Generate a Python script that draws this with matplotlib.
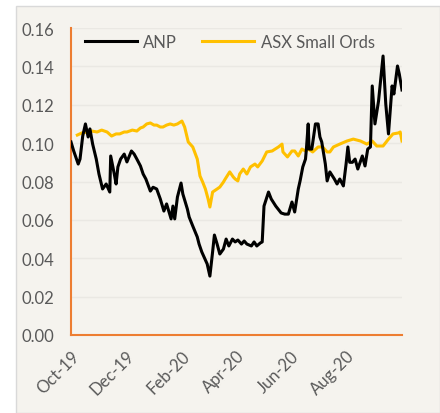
import matplotlib
matplotlib.use("Agg")
import matplotlib.pyplot as plt
import matplotlib.dates as mdates
from matplotlib.patches import Rectangle
import pandas as pd

START = pd.Timestamp("2019-10-01")
END = pd.Timestamp("2020-10-02")

# ANP share price (day offset from START, value)
anp_days = [0, 3, 8, 10, 13, 16, 19, 21, 24, 28, 31, 35, 39, 43, 44, 48, 50, 52, 55, 59,
            62, 67, 70, 73, 77, 80, 83, 88, 91, 95, 99, 103, 106, 111, 113, 115, 118, 122, 124, 129,
            131, 135, 140, 142, 145, 151, 154, 157, 159, 162, 165, 169, 172, 175, 179, 182, 185, 189, 192, 195,
            200, 203, 206, 210, 212, 214, 219, 222, 227, 233, 237, 241, 245, 248, 252, 254, 257, 260, 261, 263,
            264, 267, 271, 274, 276, 278, 282, 284, 287, 292, 295, 298, 302, 305, 307, 309, 312, 315, 318, 323,
            326, 329, 332, 334, 337, 341, 346, 349, 352, 356, 358, 362, 364, 367]
anp = [0.1006, 0.0959, 0.0891, 0.0917, 0.1037, 0.1100, 0.1032, 0.1074, 0.0995, 0.0917,
       0.0839, 0.0761, 0.0787, 0.0745, 0.0933, 0.0839, 0.0787, 0.0876, 0.0917, 0.0943,
       0.0902, 0.0959, 0.0943, 0.0917, 0.0881, 0.0839, 0.0813, 0.0750, 0.0770, 0.0761,
       0.0709, 0.0646, 0.0683, 0.0605, 0.0672, 0.0605, 0.0719, 0.0792, 0.0735, 0.0657,
       0.0615, 0.0568, 0.0511, 0.0474, 0.0433, 0.0370, 0.0307, 0.0433, 0.0521, 0.0474,
       0.0422, 0.0448, 0.0500, 0.0464, 0.0500, 0.0485, 0.0495, 0.0474, 0.0490, 0.0474,
       0.0464, 0.0485, 0.0464, 0.0480, 0.0485, 0.0672, 0.0745, 0.0709, 0.0672, 0.0636,
       0.0630, 0.0630, 0.0693, 0.0641, 0.0761, 0.0803, 0.0876, 0.0917, 0.0969, 0.1100,
       0.0969, 0.0969, 0.1100, 0.1100, 0.1032, 0.1006, 0.0891, 0.0803, 0.0850, 0.0813,
       0.0787, 0.0813, 0.0777, 0.0891, 0.0980, 0.0900, 0.0900, 0.0917, 0.0865, 0.0933,
       0.0881, 0.0969, 0.0980, 0.1298, 0.1100, 0.1220, 0.1454, 0.1204, 0.1048, 0.1298,
       0.1256, 0.1402, 0.1360, 0.1277]

# ASX Small Ords, rebased to ANP
ords_days = [7, 12, 18, 23, 29, 34, 40, 45, 50, 54, 59, 62, 68, 73, 77, 80, 84, 88, 92, 95,
             99, 102, 106, 110, 114, 118, 123, 126, 130, 135, 140, 143, 146, 149, 152, 154, 157, 162, 165, 169,
             171, 176, 180, 182, 185, 187, 191, 195, 199, 204, 207, 212, 217, 223, 230, 234, 235, 240, 245, 248,
             252, 256, 260, 263, 268, 274, 279, 284, 287, 291, 298, 306, 313, 321, 328, 334, 339, 346, 352, 357,
             363, 365, 367]
ords = [0.1042, 0.1053, 0.1058, 0.1063, 0.1058, 0.1068, 0.1058, 0.1037, 0.1048, 0.1048,
        0.1058, 0.1058, 0.1068, 0.1063, 0.1079, 0.1084, 0.1100, 0.1105, 0.1094, 0.1094,
        0.1084, 0.1084, 0.1094, 0.1100, 0.1094, 0.1100, 0.1115, 0.1084, 0.1006, 0.0980,
        0.0917, 0.0829, 0.0797, 0.0761, 0.0709, 0.0667, 0.0745, 0.0761, 0.0771, 0.0797,
        0.0813, 0.0850, 0.0823, 0.0813, 0.0803, 0.0839, 0.0865, 0.0839, 0.0876, 0.0891,
        0.0876, 0.0907, 0.0954, 0.0959, 0.0980, 0.0995, 0.0954, 0.0928, 0.0959, 0.0959,
        0.0933, 0.0969, 0.0959, 0.0969, 0.0954, 0.0980, 0.0980, 0.0954, 0.0954, 0.0980,
        0.0995, 0.1011, 0.1021, 0.1011, 0.0995, 0.1011, 0.0985, 0.0985, 0.1021, 0.1048,
        0.1053, 0.1058, 0.1011]

tick_months = ["2019-10-01", "2019-12-01", "2020-02-01", "2020-04-01", "2020-06-01", "2020-08-01"]
yticks = [0.00, 0.02, 0.04, 0.06, 0.08, 0.10, 0.12, 0.14, 0.16]

BG = "#F5F3EE"
ORANGE = "#ED7D31"
TXT = "#595959"

plt.rcParams["font.family"] = ["Lato", "DejaVu Sans"]

fig = plt.figure(figsize=(4.4, 4.14), dpi=100)
fig.patch.set_facecolor("white")
fig.patches.append(Rectangle((16 / 440, 0), 1 - 16 / 440, 1 - 7 / 414, transform=fig.transFigure,
                             facecolor=BG, edgecolor="#D9D9D9", linewidth=1, zorder=-10))

ax = fig.add_axes([71 / 440, 1 - 336 / 414, (402 - 71) / 440, (336 - 29) / 414])
ax.set_zorder(1)
ax.patch.set_alpha(0)

anp_x = START + pd.to_timedelta(anp_days, unit="D")
ords_x = START + pd.to_timedelta(ords_days, unit="D")
ax.plot(anp_x, anp, color="black", lw=2.2, label="ANP", zorder=3)
ax.plot(ords_x, ords, color="#FFC000", lw=2.2, label="ASX Small Ords", zorder=2)

ax.set_xlim(START, END)
ax.set_ylim(0, 0.16)
ax.set_yticks(yticks)
ax.set_yticklabels(["%.2f" % v for v in yticks])
ax.set_xticks(pd.to_datetime(tick_months))
ax.xaxis.set_major_formatter(mdates.DateFormatter("%b-%y"))
ax.grid(axis="y", color="#EAE8E3", lw=1)
ax.set_axisbelow(True)

for s in ["top", "right"]:
    ax.spines[s].set_visible(False)
for s in ["left", "bottom"]:
    ax.spines[s].set_color(ORANGE)
    ax.spines[s].set_linewidth(1.5)

ax.tick_params(axis="both", length=0, colors=TXT, labelsize=12)
ax.tick_params(axis="y", pad=12)
ax.tick_params(axis="x", pad=9)
for lab in ax.get_xticklabels():
    lab.set_rotation(45)
    lab.set_ha("right")
    lab.set_va("top")
    lab.set_rotation_mode("anchor")

leg = ax.legend(loc="center", bbox_to_anchor=(0.48, 0.954), ncol=2, frameon=False,
                fontsize=12, handlelength=3.1, columnspacing=1.5, handletextpad=0.4)
for t in leg.get_texts():
    t.set_color(TXT)

fig.savefig("out.png", dpi=100, facecolor=fig.get_facecolor())
